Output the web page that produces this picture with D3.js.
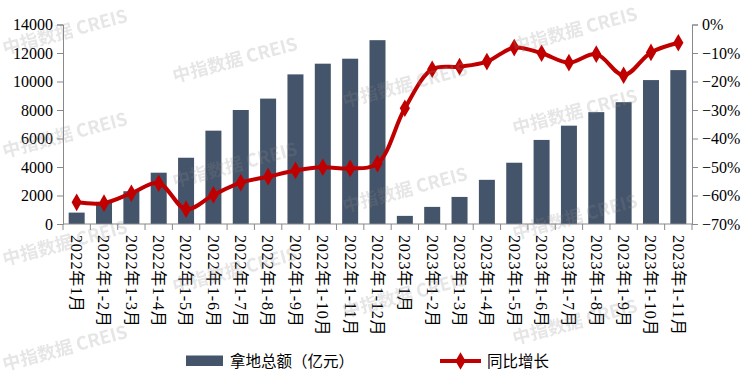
<!DOCTYPE html>
<html><head><meta charset="utf-8">
<script src="https://cdn.jsdelivr.net/npm/d3@7/dist/d3.min.js"></script>
<style>html,body{margin:0;padding:0;background:#fff;}svg{display:block;}</style>
</head><body>
<svg id="chart" width="751" height="377"></svg>
<script>
const categories = ["2022年1月","2022年1-2月","2022年1-3月","2022年1-4月","2022年1-5月","2022年1-6月","2022年1-7月","2022年1-8月","2022年1-9月","2022年1-10月","2022年1-11月","2022年1-12月","2023年1月","2023年1-2月","2023年1-3月","2023年1-4月","2023年1-5月","2023年1-6月","2023年1-7月","2023年1-8月","2023年1-9月","2023年1-10月","2023年1-11月"];
const landAmount = [800,1550,2300,3600,4650,6550,8000,8800,10500,11250,11600,12900,570,1200,1900,3100,4300,5900,6900,7850,8550,10100,10800];
const yoyGrowth = [-0.624,-0.627,-0.592,-0.557,-0.648,-0.598,-0.555,-0.534,-0.512,-0.501,-0.505,-0.488,-0.294,-0.157,-0.148,-0.130,-0.081,-0.101,-0.134,-0.104,-0.178,-0.098,-0.064];
const leftTicks = [0,2000,4000,6000,8000,10000,12000,14000];
const rightTicks = [-0.7,-0.6,-0.5,-0.4,-0.3,-0.2,-0.1,0];
const legendLabels = ["拿地总额（亿元）","同比增长"];

const svg = d3.select("#chart");
const L = 63, R = 692, T = 24.5, B = 224;
const numFont = "'Liberation Serif','Times New Roman',serif";
const cjkFont = "'Noto Sans CJK SC',sans-serif";
const axisColor = "#898989";

const wmPos = [[65,32],[65,135],[65,243],[65,348],[235,60],[235,165],[235,270],[405,85],[405,190],[405,295],[575,30],[575,112],[575,217],[575,322]];

const x = d3.scaleBand().domain(categories).range([L,R]).paddingInner(0.415).paddingOuter(0.2075);
const xEdge = d3.scaleBand().domain(categories).range([L,R]).padding(0);
const yL = d3.scaleLinear().domain([0,14000]).range([B,T]);
const yR = d3.scaleLinear().domain([-0.7,0]).range([B,T]);

// bars
svg.append("g").selectAll("rect").data(categories).join("rect")
  .attr("x", d => x(d)).attr("width", x.bandwidth())
  .attr("y", (d,i) => yL(landAmount[i])).attr("height", (d,i) => B - yL(landAmount[i]))
  .attr("fill","#44546a");

// left axis
const ax = d3.axisLeft(yL).tickValues(leftTicks).tickSize(6).tickPadding(4).tickFormat(d3.format("d"));
const gL = svg.append("g").attr("transform",`translate(${L},0)`).call(ax);
// right axis
const ar = d3.axisRight(yR).tickValues(rightTicks).tickSize(6).tickPadding(4).tickFormat(d3.format(".0%"));
const gR = svg.append("g").attr("transform",`translate(${R},0)`).call(ar);
[gL,gR].forEach(g => {
  g.select(".domain").attr("stroke",axisColor);
  g.selectAll(".tick line").attr("stroke",axisColor);
  g.selectAll("text").attr("font-family",numFont).attr("font-size",16).attr("fill","#000");
});

// x axis
const gX = svg.append("g");
gX.append("line").attr("x1",L).attr("x2",R).attr("y1",B).attr("y2",B).attr("stroke",axisColor);
const edges = categories.map(c => xEdge(c)).concat([R]);
gX.selectAll("line.t").data(edges).join("line").attr("class","t")
  .attr("x1",d=>d).attr("x2",d=>d).attr("y1",B).attr("y2",B+6).attr("stroke",axisColor);
const lbl = gX.selectAll("text").data(categories).join("text")
  .attr("transform", d => `translate(${x(d)+x.bandwidth()/2},235) rotate(90)`)
  .attr("dy","0.35em").attr("text-anchor","start")
  .attr("font-family",numFont).attr("font-size",16).attr("fill","#000")
  .attr("letter-spacing","0.8px");
lbl.each(function(d){
  const t = d3.select(this);
  const parts = d.match(/[\u4e00-\u9fff]+|[^\u4e00-\u9fff]+/g);
  parts.forEach(p => {
    const sp = t.append("tspan").text(p);
    if (/[\u4e00-\u9fff]/.test(p)) sp.attr("font-family",cjkFont).attr("font-size",16);
  });
});

// line
const pts = categories.map((c,i) => [x(c)+x.bandwidth()/2, yR(yoyGrowth[i])]);
svg.append("path").attr("d", d3.line().curve(d3.curveCatmullRom.alpha(0.5))(pts))
  .attr("fill","none").attr("stroke","#c00000").attr("stroke-width",4).attr("stroke-linejoin","round");
svg.append("g").selectAll("path").data(pts).join("path")
  .attr("transform", d => `translate(${d[0]},${d[1]})`)
  .attr("d", d3.symbol().type(d3.symbolDiamond).size(90))
  .attr("fill","#c00000");

// legend
const lg = svg.append("g");
lg.append("rect").attr("x",186).attr("y",355.5).attr("width",37).attr("height",10.5).attr("fill","#44546a");
lg.append("text").attr("x",230).attr("y",367).attr("font-family",cjkFont).attr("font-size",15.5).text(legendLabels[0]);
lg.append("line").attr("x1",440).attr("x2",481).attr("y1",361).attr("y2",361).attr("stroke","#c00000").attr("stroke-width",4);
lg.append("path").attr("transform","translate(460.5,361)").attr("d", d3.symbol().type(d3.symbolDiamond).size(90)).attr("fill","#c00000");
lg.append("text").attr("x",487).attr("y",367).attr("font-family",cjkFont).attr("font-size",15.5).text(legendLabels[1]);

// watermarks on top
const wmTop = svg.append("g").attr("opacity",0.22);
wmTop.selectAll("text").data(wmPos).join("text")
  .attr("transform", d => `translate(${d[0]},${d[1]}) rotate(-15)`)
  .attr("text-anchor","middle").attr("dy","0.35em")
  .attr("font-family",cjkFont).attr("font-weight","bold").attr("font-size",18)
  .attr("fill","#8c8c8c").text("中指数据 CREIS");
</script>
</body></html>
